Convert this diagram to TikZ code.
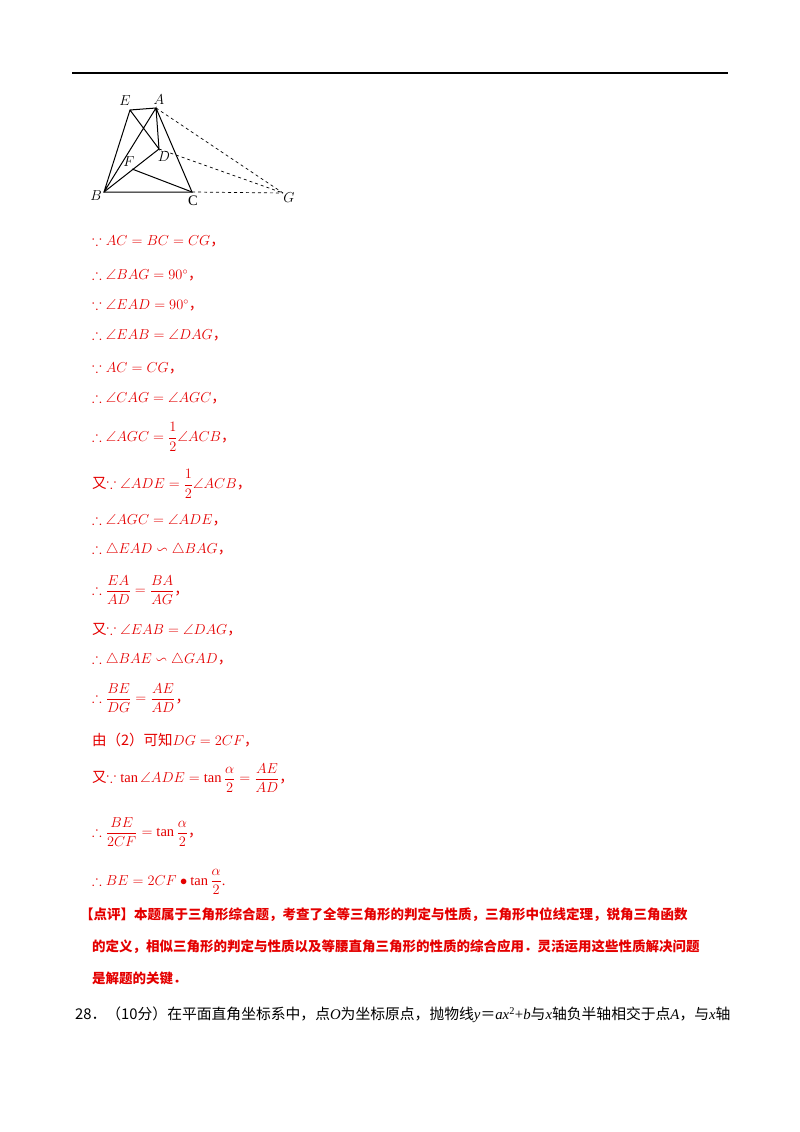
\documentclass[tikz,border=0pt]{standalone}
\usepackage{amsmath,amssymb}
\usepackage{fontspec}
\setmainfont{Liberation Serif}
\newfontfamily\cjk{Noto Sans CJK SC}
\usepackage{tikz}
\definecolor{ansred}{RGB}{228,0,0}

\begin{document}
\begin{tikzpicture}[x=1pt,y=-1pt,
    every node/.style={font=\fontsize{14.5}{17}\selectfont},
    sol/.style={anchor=west,text=ansred,inner sep=0pt},
    remark/.style={sol,font=\fontsize{13.5}{16}\selectfont\cjk\bfseries}]
    \useasboundingbox (0,0) rectangle (800,1132);
    \draw [line width=1.2pt] (72,73) -- (728,73);

    % figure
    \coordinate (E) at (130,110);
    \coordinate (A) at (156,108);
    \coordinate (D) at (159,149);
    \coordinate (F) at (132,169);
    \coordinate (B) at (104,192);
    \coordinate (C) at (192,192);
    \coordinate (G) at (283,193);
    \draw [line width=1pt] (B) -- (E) -- (A) -- (C) -- (B) -- (A) -- (D) -- (E);
    \draw [line width=1pt] (B) -- (D);
    \draw [line width=1pt] (F) -- (C);
    \draw [dashed, line width=.7pt] (A) -- (G);
    \draw [dashed, line width=.7pt] (D) -- (G);
    \draw [dashed, line width=.7pt] (C) -- (G);
    \node (lE) at (125,101) {$E$};
    \node (lA) at (159,100) {$A$};
    \node (lD) at (164,157) {$D$};
    \node (lF) at (129,162) {$F$};
    \node (lB) at (96,196) {$B$};
    \node (lC) at (193,201) {C};
    \node (lG) at (289,198) {$G$};

    % solution
    \node [sol] (l1) at (92,241) {$\because AC=BC=CG$\cjk，};
    \node [sol] (l2) at (92,275) {$\therefore \angle BAG=90^\circ$\cjk，};
    \node [sol] (l3) at (92,305) {$\because \angle EAD=90^\circ$\cjk，};
    \node [sol] (l4) at (92,335) {$\therefore \angle EAB=\angle DAG$\cjk，};
    \node [sol] (l5) at (92,368) {$\because AC=CG$\cjk，};
    \node [sol] (l6) at (92,398) {$\therefore \angle CAG=\angle AGC$\cjk，};
    \node [sol] (l7) at (92,437) {$\therefore \angle AGC=\dfrac{1}{2}\angle ACB$\cjk，};
    \node [sol] (l8) at (92,484) {\cjk 又$\because \angle ADE=\dfrac{1}{2}\angle ACB$\cjk，};
    \node [sol] (l9) at (92,520) {$\therefore \angle AGC=\angle ADE$\cjk，};
    \node [sol] (l10) at (92,550) {$\therefore \triangle EAD\backsim\triangle BAG$\cjk，};
    \node [sol] (l11) at (92,590) {$\therefore \dfrac{EA}{AD}=\dfrac{BA}{AG}$\cjk，};
    \node [sol] (l12) at (92,630) {\cjk 又$\because \angle EAB=\angle DAG$\cjk，};
    \node [sol] (l13) at (92,660) {$\therefore \triangle BAE\backsim\triangle GAD$\cjk，};
    \node [sol] (l14) at (92,698) {$\therefore \dfrac{BE}{DG}=\dfrac{AE}{AD}$\cjk，};
    \node [sol] (l15) at (92,740) {\cjk 由（2）可知$DG=2CF$\cjk，};
    \node [sol] (l16) at (92,778) {\cjk 又$\because \tan\angle ADE=\tan\dfrac{\alpha}{2}=\dfrac{AE}{AD}$\cjk，};
    \node [sol] (l17) at (92,832) {$\therefore \dfrac{BE}{2CF}=\tan\dfrac{\alpha}{2}$\cjk，};
    \node [sol] (l18) at (92,882) {$\therefore BE=2CF\bullet\tan\dfrac{\alpha}{2}$.};

    % comment
    \node [remark] (c1) at (80,915)
      {【点评】本题属于三角形综合题，考查了全等三角形的判定与性质，三角形中位线定理，锐角三角函数};
    \node [remark] (c2) at (92,947)
      {的定义，相似三角形的判定与性质以及等腰直角三角形的性质的综合应用．灵活运用这些性质解决问题};
    \node [remark] (c3) at (92,978)
      {是解题的关键．};

    \node [anchor=west,inner sep=0pt,font=\fontsize{14.8}{17}\selectfont] (q28) at (75,1015)
      {\cjk 28．（10分）在平面直角坐标系中，点\rmfamily\textit{O}\cjk 为坐标原点，抛物线\rmfamily\textit{y}\cjk＝\rmfamily\textit{ax}\textsuperscript{2}+\textit{b}\cjk 与\rmfamily\textit{x}\cjk 轴负半轴相交于点\rmfamily\textit{A}\cjk，与\rmfamily\textit{x}\cjk 轴};
  \end{tikzpicture}
\end{document}
